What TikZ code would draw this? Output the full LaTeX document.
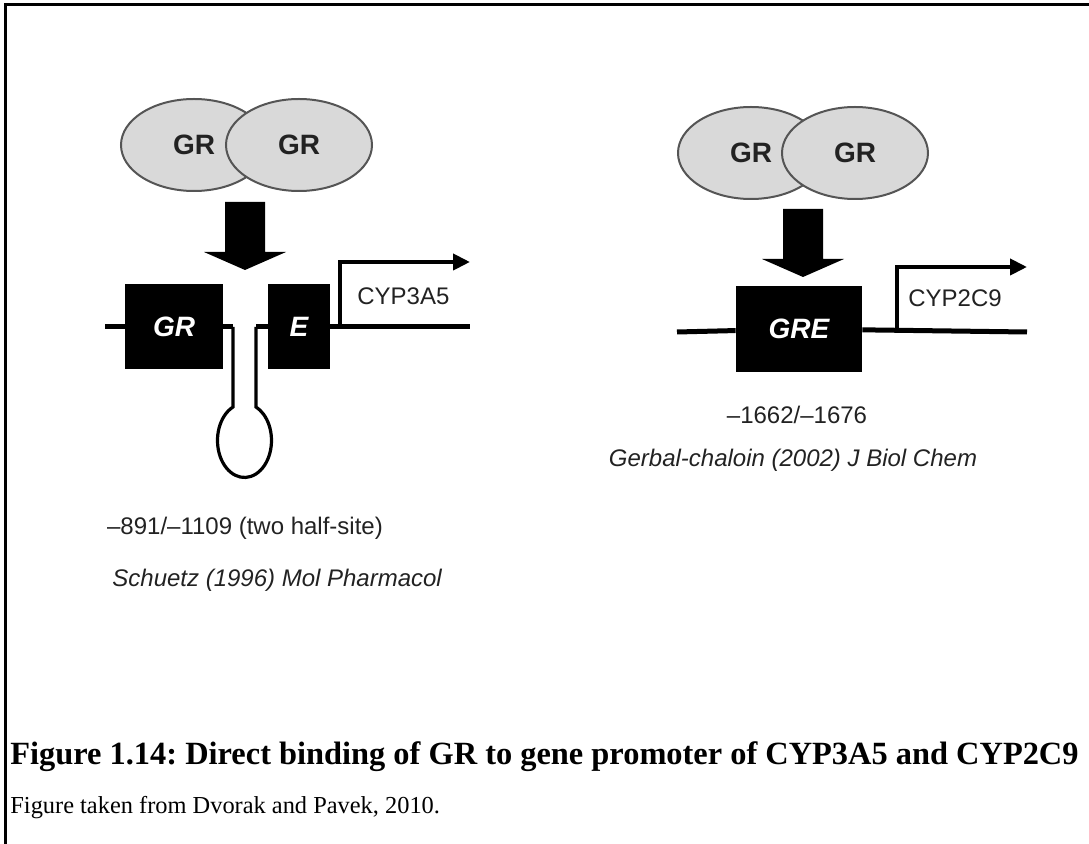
\documentclass[tikz,border=0pt]{standalone}
\usepackage{fontspec}
\setmainfont{Liberation Serif}
\newfontfamily\arialfont{Liberation Sans}
\usetikzlibrary{positioning,arrows.meta,shapes.geometric}
\definecolor{GRFILL}{HTML}{D9D9D9}
\definecolor{GREDGE}{HTML}{555555}
\definecolor{TXT}{HTML}{222222}
\frenchspacing
\tikzset{
    GR/.style={ellipse,draw=GREDGE,fill=GRFILL,line width=1pt,
        minimum width=73pt,minimum height=46pt,inner sep=0pt,
        font=\arialfont\bfseries\fontsize{14}{14}\selectfont,text=TXT},
    BOX/.style={rectangle,fill=black,inner sep=0pt,minimum height=42.5pt,
        font=\arialfont\bfseries\itshape\fontsize{14}{14}\selectfont,text=white},
    DNA/.style={line width=2.5pt},
    STEM/.style={line width=1.6pt},
    TSS/.style={line width=2pt,-{Triangle[length=8.5pt,width=8pt]}},
    LBL/.style={font=\arialfont\fontsize{12}{12}\selectfont,text=TXT,inner sep=0pt},
}
\def\Bind(#1){ % block arrow, tip at #1
    \fill (#1) -- ++(-41,-18) -- ++(21,0) -- ++(0,-50) -- ++(40,0)
        -- ++(0,50) -- ++(21,0) -- cycle;
}

\begin{document}
\begin{tikzpicture}[x=0.5pt,y=-0.5pt]
    \useasboundingbox (0,0) rectangle (1089,844);
    \draw[line width=1.5pt] (5,844) -- (5,5) -- (1089,5);

    % CYP3A5
    \node[GR] (L1) at (194,145) {GR};
    \node[GR] (L2) at (299,145) {GR};
    \coordinate (LT) at (245,270);
    \Bind(LT)
    \node[BOX,minimum width=49pt] (GRH) at (174,327) {GR};
    \node[BOX,minimum width=31pt] (EH) at (299,327) {E};
    \coordinate (A0) at (105,327);
    \coordinate (S1) at (233,327);
    \coordinate (S2) at (256,327);
    \coordinate (A1) at (470,327);
    \draw[DNA] (A0) -- (GRH);
    \draw[DNA] (GRH) -- (S1);
    \draw[DNA] (S2) -- (EH);
    \draw[DNA] (EH) -- (A1);
    \draw[STEM] (S1) -- ++(0,80)
        arc[start angle=-115.2,end angle=-424.8,x radius=27,y radius=37] -- (S2);
    \coordinate (P1) at (340,327);
    \coordinate (P1e) at (470,262);
    \draw[TSS] (P1) |- (P1e);
    \node[LBL,anchor=west] (T1) at (357,296) {CYP3A5};
    \node[LBL] (N1) at (245,528) {–891/–1109 (two half-site)};
    \node[LBL,anchor=west] (C1) at (112,580) {\itshape Schuetz (1996) Mol Pharmacol};

    % CYP2C9
    \node[GR] (R1) at (751,153) {GR};
    \node[GR] (R2) at (855,153) {GR};
    \coordinate (RT) at (803,277);
    \Bind(RT)
    \node[BOX,minimum width=63pt,minimum height=43pt] (GRE) at (799,329) {GRE};
    \coordinate (B0) at (677,332);
    \coordinate (B1) at (1027,332);
    \draw[DNA] (B0) -- (GRE);
    \draw[DNA] (GRE) -- (B1);
    \coordinate (P2) at (897,332);
    \coordinate (P2e) at (1027,267);
    \draw[TSS] (P2) |- (P2e);
    \node[LBL,anchor=west] (T2) at (908,298) {CYP2C9};
    \node[LBL] (N2) at (797,415) {–1662/–1676};
    \node[LBL] (C2) at (793,460) {\itshape Gerbal-chaloin (2002) J Biol Chem};

    % caption
    \node[anchor=west,inner sep=0pt,font=\fontsize{16.2}{17}\selectfont\bfseries] (CAP) at (10,757)
        {Figure 1.14: Direct binding of GR to gene promoter of CYP3A5 and CYP2C9};
    \node[below=25.5pt of CAP.west,anchor=west,inner sep=0pt,font=\fontsize{12.2}{14}\selectfont] (SRC)
        {Figure taken from Dvorak and Pavek, 2010.};
\end{tikzpicture}
\end{document}
